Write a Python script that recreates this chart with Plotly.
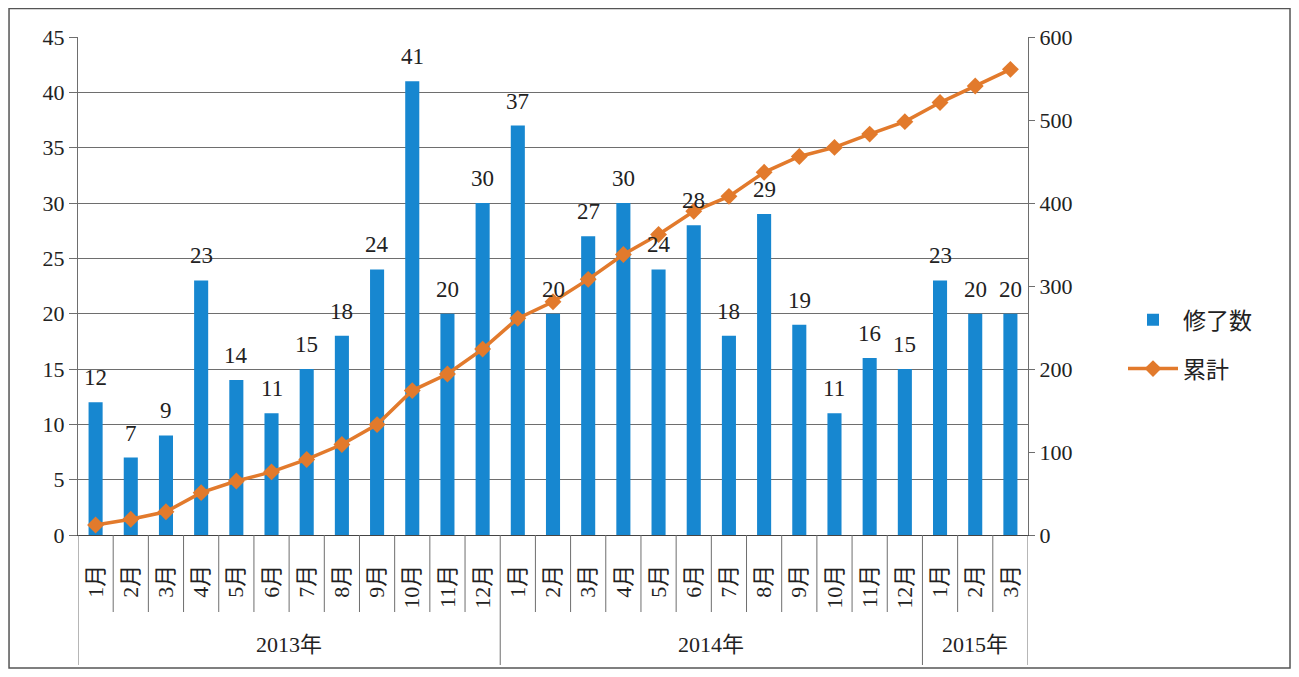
import plotly.graph_objects as go

years = ["2013年"] * 12 + ["2014年"] * 12 + ["2015年"] * 3
months = [f"{m}月" for m in range(1, 13)] * 2 + ["1月", "2月", "3月"]
completed = [12, 7, 9, 23, 14, 11, 15, 18, 24, 41, 20, 30,
             37, 20, 27, 30, 24, 28, 18, 29, 19, 11, 16, 15,
             23, 20, 20]
cumulative = [12, 19, 28, 51, 65, 76, 91, 109, 133, 174, 194, 224,
              261, 281, 308, 338, 362, 390, 408, 437, 456, 467, 483, 498,
              521, 541, 561]

FONT = "Liberation Serif, DejaVu Serif, Noto Sans CJK JP"
BLUE = "#1787d0"
ORANGE = "#e27a2c"
GRID = "#6e6e6e"

# category positions (one slot per month)
pos = list(range(len(months)))

fig = go.Figure()
fig.add_trace(go.Bar(
    x=pos, y=completed, name="修了数", legendgroup="bar",
    marker={"color": BLUE, "line": {"width": 0}},
))
fig.add_trace(go.Scatter(
    x=pos, y=cumulative, name="累計", yaxis="y2", legendgroup="line",
    mode="lines+markers",
    line={"color": ORANGE, "width": 3.5},
    marker={"symbol": "diamond", "size": 13, "color": ORANGE},
))

# month boundary ticks and year dividers below the axis
shapes = []
month_len = 77 / 498
year_len = 130 / 498
for i in range(len(months) + 1):
    b = i - 0.5
    is_year = i == 0 or i == len(months) or years[i] != years[i - 1]
    shapes.append({
        "type": "line", "xref": "x", "yref": "paper",
        "x0": b, "x1": b, "y0": 0, "y1": -(year_len if is_year else month_len),
        "line": {"color": GRID, "width": 1},
    })
shapes.append({
    "type": "rect", "xref": "paper", "yref": "paper",
    "x0": -0.0726, "x1": 1.2758, "y0": -0.267, "y1": 1.0572,
    "line": {"color": "#555", "width": 1.5},
})

annotations = []
# value labels above the bars
for x, v in zip(pos, completed):
    annotations.append({
        "x": x, "y": v, "xref": "x", "yref": "y", "text": str(v),
        "showarrow": False, "yanchor": "bottom", "yshift": 10,
        "font": {"size": 23, "family": FONT, "color": "#222"},
    })
# year group labels
start = 0
for i in range(1, len(years) + 1):
    if i == len(years) or years[i] != years[start]:
        annotations.append({
            "x": (start + i - 1) / 2, "y": -0.249, "xref": "x", "yref": "paper",
            "text": years[start], "showarrow": False,
            "font": {"size": 22, "family": FONT, "color": "#222"},
        })
        start = i

fig.update_layout(
    width=1291, height=669,
    margin={"l": 70, "r": 271, "t": 29, "b": 142},
    paper_bgcolor="white", plot_bgcolor="white",
    font={"family": FONT, "size": 20, "color": "#222"},
    bargap=0.6,
    xaxis={
        "range": [-0.5, len(months) - 0.5], "showgrid": False,
        "zeroline": False, "automargin": False,
        "showline": True, "linecolor": "#444", "linewidth": 1,
        "tickvals": pos, "ticktext": months, "ticks": "",
        "tickangle": -90, "tickfont": {"size": 22},
        "ticklabelstandoff": 20,
    },
    yaxis={
        "range": [0, 45], "dtick": 5, "showgrid": True, "gridcolor": GRID,
        "showline": True, "linecolor": GRID, "ticks": "outside",
        "ticklen": 8, "tickcolor": GRID, "zeroline": False,
        "tickfont": {"size": 22}, "automargin": False,
    },
    yaxis2={
        "range": [0, 600], "dtick": 100, "overlaying": "y", "side": "right",
        "showgrid": False, "showline": True, "linecolor": GRID,
        "ticks": "outside", "ticklen": 6, "tickcolor": GRID,
        "zeroline": False, "tickfont": {"size": 22}, "automargin": False,
    },
    legend={"x": 1.1, "y": 0.383, "yanchor": "middle",
            "font": {"size": 23}, "bgcolor": "rgba(0,0,0,0)",
            "tracegroupgap": 16, "itemwidth": 50},
    shapes=shapes,
    annotations=annotations,
)

fig.write_html("out.html")
